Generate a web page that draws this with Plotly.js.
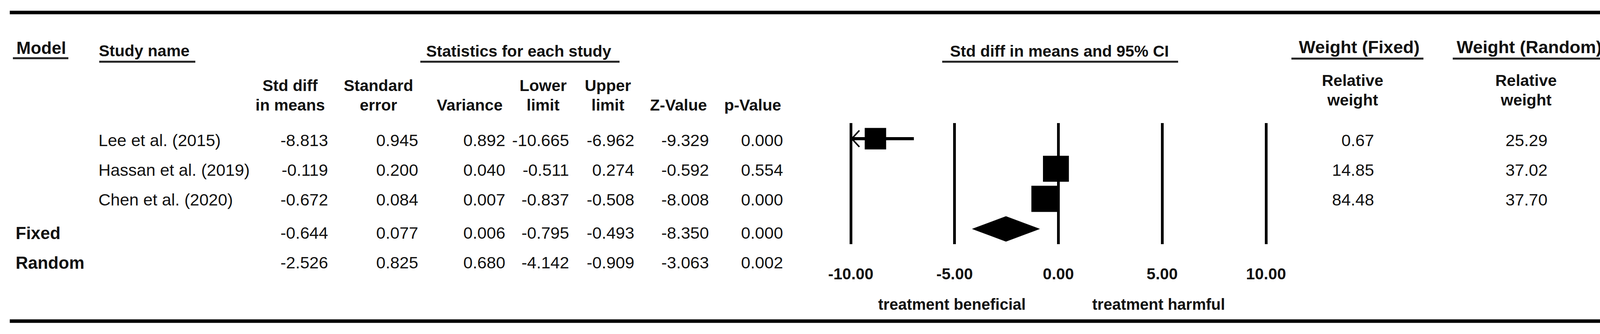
<!DOCTYPE html>
<html>
<head>
<meta charset="utf-8">
<script src="https://cdn.plot.ly/plotly-3.0.1.min.js"></script>
<style>
html,body{margin:0;padding:0;background:#ffffff;}
#chart{width:4166px;height:855px;}
</style>
</head>
<body>
<div id="chart"></div>
<script>
// ---------------- DATA ----------------
const studies      = ['Lee et al. (2015)', 'Hassan et al. (2019)', 'Chen et al. (2020)'];
const stdDiff      = [-8.813, -0.119, -0.672];
const stdErr       = [0.945, 0.200, 0.084];
const variance     = [0.892, 0.040, 0.007];
const lowerLimit   = [-10.665, -0.511, -0.837];
const upperLimit   = [-6.962, 0.274, -0.508];
const zValue       = [-9.329, -0.592, -8.008];
const pValue       = [0.000, 0.554, 0.000];
const weightFixed  = [0.67, 14.85, 84.48];
const weightRandom = [25.29, 37.02, 37.70];

const models        = ['Fixed', 'Random'];
const modelStdDiff  = [-0.644, -2.526];
const modelStdErr   = [0.077, 0.825];
const modelVariance = [0.006, 0.680];
const modelLower    = [-0.795, -4.142];
const modelUpper    = [-0.493, -0.909];
const modelZ        = [-8.350, -3.063];
const modelP        = [0.000, 0.002];

const tickVals   = [-10, -5, 0, 5, 10];
const tickLabels = ['-10.00', '-5.00', '0.00', '5.00', '10.00'];

// ---------------- LAYOUT HELPERS ----------------
const W = 4166, H = 855;
const FONT = 'Liberation Sans, Arial, Helvetica, sans-serif';
const px = x => x / W;
const py = p => 1 - p / H;
const ROW0 = 355, ROWH = 77;                 // forest rows: pixel centre of row 0, row pitch
const rowPx = i => ROW0 + ROWH * i;
// table text rows (summary rows sit a little further down)
const textPy = i => py(359 + 76 * i + (i >= studies.length ? 9 : 0));
const AXMIN = -10, AXMAX = 10;
const PXU = (3241 - 2178) / 20;              // pixels per unit on the forest axis
const XPAD = 0.2;

const annotations = [];
function txt(text, x, yPaper, opt) {
  opt = opt || {};
  annotations.push({
    text: text, xref: 'paper', yref: 'paper', x: x, y: yPaper,
    xanchor: opt.xanchor || 'center', yanchor: 'middle', showarrow: false,
    font: {family: FONT, size: opt.size || 43, color: '#111111', weight: opt.bold ? 'bold' : 'normal'}
  });
}

// top headers
txt('Model', px(40), py(122), {xanchor: 'left', bold: true, size: 44});
txt('Study name', px(251), py(130), {xanchor: 'left', bold: true, size: 41});
txt('Statistics for each study', px(1328), py(131), {bold: true, size: 41});
txt('Std diff in means and 95% CI', px(2712), py(131), {bold: true, size: 41});
txt('Weight (Fixed)', px(3479), py(120), {bold: true, size: 45});
txt('Weight (Random)', px(3915), py(120), {bold: true, size: 45});

// statistics columns
const columns = [
  {h1: 'Std diff', h2: 'in means', hc: 743,  right: 842,  s: stdDiff,    m: modelStdDiff,  d: 3},
  {h1: 'Standard', h2: 'error',    hc: 969,  right: 1073, s: stdErr,     m: modelStdErr,   d: 3},
  {h1: '',         h2: 'Variance', hc: 1202, right: 1296, s: variance,   m: modelVariance, d: 3},
  {h1: 'Lower',    h2: 'limit',    hc: 1390, right: 1459, s: lowerLimit, m: modelLower,    d: 3},
  {h1: 'Upper',    h2: 'limit',    hc: 1556, right: 1626, s: upperLimit, m: modelUpper,    d: 3},
  {h1: '',         h2: 'Z-Value',  hc: 1737, right: 1817, s: zValue,     m: modelZ,        d: 3},
  {h1: '',         h2: 'p-Value',  hc: 1927, right: 2007, s: pValue,     m: modelP,        d: 3}
];
columns.forEach(c => {
  if (c.h1) txt(c.h1, px(c.hc), py(219), {bold: true, size: 41});
  txt(c.h2, px(c.hc), py(269), {bold: true, size: 41});
  c.s.forEach((v, i) => txt(v.toFixed(c.d), px(c.right), textPy(i), {xanchor: 'right'}));
  c.m.forEach((v, k) => txt(v.toFixed(c.d), px(c.right), textPy(studies.length + k), {xanchor: 'right'}));
});

// weight columns
const weightCols = [
  {hc: 3462, right: 3520, vals: weightFixed},
  {hc: 3906, right: 3964, vals: weightRandom}
];
weightCols.forEach(c => {
  txt('Relative', px(c.hc), py(206), {bold: true, size: 41});
  txt('weight', px(c.hc), py(256), {bold: true, size: 41});
  c.vals.forEach((v, i) => txt(v.toFixed(2), px(c.right), textPy(i), {xanchor: 'right'}));
});

// study & model names
studies.forEach((s, i) => txt(s, px(250), textPy(i), {xanchor: 'left'}));
models.forEach((m, k) => txt(m, px(38), textPy(studies.length + k), {xanchor: 'left', bold: true, size: 44}));

// favour labels
txt('treatment beneficial', px(2437), py(779), {bold: true, size: 40});
txt('treatment harmful', px(2966), py(779), {bold: true, size: 40});

// ---------------- SHAPES ----------------
const shapes = [];
function hline(x0, x1, y, w, color) {
  shapes.push({type: 'line', xref: 'paper', yref: 'paper', x0: px(x0), x1: px(x1), y0: py(y), y1: py(y),
               line: {color: color, width: w}});
}
hline(25, 4135, 32, 9, '#000000');
hline(25, 4135, 822, 9, '#000000');
hline(33, 175, 149, 5, '#222222');
hline(254, 500, 158, 5, '#222222');
hline(1076, 1586, 158, 5, '#222222');
hline(2412, 3016, 158, 5, '#222222');
hline(3306, 3644, 150, 5, '#222222');
hline(3719, 4113, 150, 5, '#222222');

// ---------------- FOREST TRACES ----------------
const rowIdx = studies.map((_, i) => i);

const ciX = [], ciY = [];
rowIdx.forEach(i => {
  ciX.push(Math.max(lowerLimit[i], AXMIN), Math.min(upperLimit[i], AXMAX), null);
  ciY.push(i, i, null);
});
const arX = [], arY = [];
const ADX = 22 / PXU, ADY = 21 / ROWH;
rowIdx.forEach(i => {
  if (lowerLimit[i] < AXMIN) {
    arX.push(AXMIN + ADX, AXMIN + 0.05, AXMIN + ADX, null);
    arY.push(i - ADY, i, i + ADY, null);
  }
  if (upperLimit[i] > AXMAX) {
    arX.push(AXMAX - ADX, AXMAX - 0.05, AXMAX - ADX, null);
    arY.push(i - ADY, i, i + ADY, null);
  }
});

// summary diamond (random-effects estimate) on the first summary row
const dRow = studies.length;
const DH = 32 / ROWH;
const dX = [modelLower[1], modelStdDiff[1], modelUpper[1], modelStdDiff[1], modelLower[1]];
const dY = [dRow, dRow - DH, dRow, dRow + DH, dRow];

const traces = [
  {x: ciX, y: ciY, type: 'scatter', mode: 'lines', line: {color: '#000', width: 8}, hoverinfo: 'skip', cliponaxis: false},
  {x: arX, y: arY, type: 'scatter', mode: 'lines', line: {color: '#000', width: 4}, hoverinfo: 'skip', cliponaxis: false},
  {x: stdDiff, y: rowIdx, type: 'scatter', mode: 'markers', cliponaxis: false,
   marker: {symbol: 'square', color: '#000', opacity: 1, size: weightRandom.map(w => 10.9 * Math.sqrt(w)), line: {width: 0}},
   text: studies, hoverinfo: 'x+text'},
  {x: dX, y: dY, type: 'scatter', mode: 'lines', fill: 'toself', fillcolor: '#000',
   line: {color: '#000', width: 1}, hoverinfo: 'skip', cliponaxis: false}
];

const layout = {
  width: W, height: H,
  margin: {l: 0, r: 0, t: 0, b: 0, pad: 0},
  paper_bgcolor: '#ffffff', plot_bgcolor: '#ffffff',
  showlegend: false,
  xaxis: {
    domain: [px(2178 - XPAD * PXU), px(3241 + XPAD * PXU)],
    range: [AXMIN - XPAD, AXMAX + XPAD],
    tickmode: 'array', tickvals: tickVals, ticktext: tickLabels,
    showgrid: true, gridcolor: '#000000', gridwidth: 7,
    zeroline: false, showline: false,
    ticks: 'outside', ticklen: 40, tickcolor: 'rgba(0,0,0,0)',
    tickfont: {family: FONT, size: 41, color: '#111111', weight: 'bold'},
    fixedrange: true
  },
  yaxis: {
    domain: [py(625), py(315)],
    range: [(625 - ROW0) / ROWH, (315 - ROW0) / ROWH],
    visible: false, showgrid: false, zeroline: false, fixedrange: true
  },
  annotations: annotations,
  shapes: shapes
};

Plotly.newPlot('chart', traces, layout, {displayModeBar: false, staticPlot: true});
</script>
</body>
</html>
